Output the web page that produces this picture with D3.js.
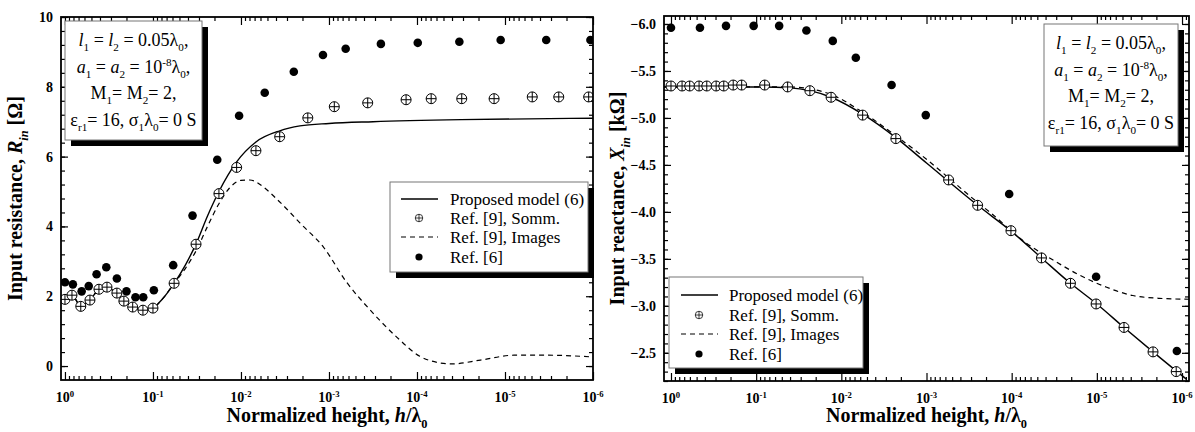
<!DOCTYPE html>
<html>
<head>
<meta charset="utf-8">
<script src="https://cdn.jsdelivr.net/npm/d3@7"></script>
<style>
body { margin: 0; background: #fff; }
svg { display: block; }
</style>
</head>
<body>
<svg id="svg"></svg>
<script>
// ---- data: left panel, input resistance [ohm] vs h/lambda0
var resSommH = [1.0, 0.832, 0.661, 0.52, 0.411, 0.333, 0.257, 0.214, 0.17, 0.13, 0.1, 0.0575, 0.0324, 0.0178, 0.0112, 0.00676, 0.00363, 0.00174, 8.7e-4, 3.63e-4, 1.33e-4, 6.9e-5, 3.1e-5, 1.33e-5, 4.9e-6, 2.45e-6, 1.12e-6];
var resSommV = [1.91, 2.03, 1.71, 1.89, 2.2, 2.26, 2.09, 1.86, 1.69, 1.6, 1.66, 2.37, 3.49, 4.94, 5.69, 6.17, 6.57, 7.11, 7.43, 7.54, 7.63, 7.66, 7.66, 7.66, 7.71, 7.71, 7.71];
var resRef6H = [1.0, 0.813, 0.646, 0.537, 0.437, 0.339, 0.257, 0.2, 0.158, 0.129, 0.0977, 0.0589, 0.0355, 0.0186, 0.0105, 0.00537, 0.00251, 0.00117, 6.46e-4, 2.57e-4, 9.8e-5, 3.3e-5, 1.12e-5, 3.4e-6, 1.07e-6];
var resRef6V = [2.4, 2.34, 2.14, 2.29, 2.63, 2.83, 2.51, 2.14, 1.97, 1.97, 2.17, 2.89, 4.31, 5.91, 7.17, 7.83, 8.43, 8.91, 9.09, 9.23, 9.26, 9.29, 9.34, 9.34, 9.34];
var resModelH = [1.109, 1.0, 0.832, 0.661, 0.525, 0.417, 0.339, 0.263, 0.214, 0.17, 0.132, 0.102, 0.0794, 0.0575, 0.0427, 0.0324, 0.024, 0.0178, 0.0112, 0.00676, 0.00363, 0.00214, 0.001, 3.16e-4, 3.16e-5, 1e-6];
var resModelV = [1.95, 1.92, 2.03, 1.72, 1.88, 2.18, 2.25, 2.1, 1.87, 1.7, 1.6, 1.65, 1.9, 2.37, 2.9, 3.5, 4.3, 5.0, 5.85, 6.42, 6.74, 6.88, 6.95, 7.0, 7.06, 7.1];
var resImagesH = [1.109, 1.0, 0.832, 0.661, 0.525, 0.417, 0.339, 0.263, 0.214, 0.17, 0.132, 0.102, 0.0794, 0.0575, 0.0427, 0.0324, 0.024, 0.0178, 0.0135, 0.01, 0.00794, 0.00537, 0.00398, 0.00302, 0.00214, 0.00115, 6.3e-4, 3.39e-4, 1.7e-4, 9.3e-5, 5.5e-5, 4e-5, 1.9e-5, 7.9e-6, 3.3e-6, 1e-6];
var resImagesV = [1.95, 1.92, 2.03, 1.72, 1.88, 2.18, 2.25, 2.1, 1.87, 1.7, 1.6, 1.65, 1.9, 2.37, 2.8, 3.3, 4.0, 4.65, 5.1, 5.32, 5.33, 5.1, 4.8, 4.5, 4.1, 3.4, 2.4, 1.6, 0.83, 0.28, 0.09, 0.06, 0.17, 0.31, 0.31, 0.26];

// ---- data: right panel, input reactance [kohm] vs h/lambda0
var reaSommH = [1.0, 0.741, 0.603, 0.468, 0.38, 0.295, 0.24, 0.186, 0.148, 0.0794, 0.0427, 0.0234, 0.0132, 0.00562, 0.00229, 5.5e-4, 2.51e-4, 1.02e-4, 4.47e-5, 2.04e-5, 1.02e-5, 4.8e-6, 2.19e-6, 1.17e-6];
var reaSommV = [-5.34, -5.34, -5.34, -5.34, -5.34, -5.34, -5.34, -5.35, -5.35, -5.35, -5.33, -5.29, -5.22, -5.03, -4.78, -4.34, -4.07, -3.80, -3.51, -3.24, -3.02, -2.77, -2.51, -2.30];
var reaRef6H = [1.0, 0.457, 0.226, 0.107, 0.0537, 0.0257, 0.0126, 0.00676, 0.00257, 0.00102, 1.07e-4, 1.02e-5, 1.15e-6];
var reaRef6V = [-5.96, -5.96, -5.98, -5.98, -5.98, -5.93, -5.82, -5.64, -5.35, -5.03, -4.19, -3.31, -2.52];
var reaModelH = [1.208, 0.1, 0.0398, 0.0234, 0.0132, 0.00562, 0.00229, 0.001, 2.51e-4, 1e-4, 4.47e-5, 2.04e-5, 1e-5, 4.8e-6, 2.19e-6, 8.9e-7];
var reaModelV = [-5.33, -5.33, -5.32, -5.29, -5.22, -5.04, -4.79, -4.52, -4.07, -3.79, -3.51, -3.24, -3.02, -2.77, -2.51, -2.22];
var reaImagesH = [1.208, 0.1, 0.0398, 0.0234, 0.0132, 0.00562, 0.00229, 0.001, 5e-4, 2.51e-4, 1.82e-4, 6.8e-5, 3.3e-5, 1.62e-5, 7.8e-6, 3.8e-6, 1.86e-6, 8.3e-7];
var reaImagesV = [-5.33, -5.33, -5.33, -5.31, -5.25, -5.06, -4.81, -4.56, -4.33, -4.1, -4.0, -3.67, -3.49, -3.33, -3.2, -3.11, -3.08, -3.07];

// ---- ticks and labels
var decadeTicks = [1, 1e-1, 1e-2, 1e-3, 1e-4, 1e-5, 1e-6];
var decadeExps = ["0", "-1", "-2", "-3", "-4", "-5", "-6"];
var resTicks = [0, 2, 4, 6, 8, 10];
var reaTicks = [-6.0, -5.5, -5.0, -4.5, -4.0, -3.5, -3.0, -2.5];
var legendNames = ["Proposed model (6)", "Ref. [9], Somm.", "Ref. [9], Images", "Ref. [6]"];

var width = 1195;
var height = 432;
var serif = "'Liberation Serif','Times New Roman',serif";

var svg = d3.select("#svg")
	.attr("width", width)
	.attr("height", height)
	.style("font-family", serif);

function zip(h, v) {
	return h.map(function(d, i) { return [d, v[i]]; });
}

// write text made of pieces: [text, style] style: i, sub, sup, isub
function rich(sel, parts, size) {
	var shift = 0;
	parts.forEach(function(p) {
		var st = p[1] || "";
		var target = 0;
		if (st.indexOf("sub") >= 0) target = size * 0.28;
		if (st.indexOf("sup") >= 0) target = -size * 0.38;
		var ts = sel.append("tspan").text(p[0]);
		if (target != shift) ts.attr("dy", target - shift);
		shift = target;
		if (target != 0) ts.attr("font-size", size * 0.62);
		if (st.indexOf("i") >= 0) ts.attr("font-style", "italic");
	});
}

var annotationLines = [
	[["l", "i"], ["1", "sub"], [" = "], ["l", "i"], ["2", "sub"], [" = 0.05λ"], ["0", "sub"], [","]],
	[["a", "i"], ["1", "sub"], [" = "], ["a", "i"], ["2", "sub"], [" = 10"], ["-8", "sup"], ["λ"], ["0", "sub"], [","]],
	[["M"], ["1", "sub"], ["= M"], ["2", "sub"], ["= 2,"]],
	[["ε"], ["r1", "sub"], ["= 16, σ"], ["1", "sub"], ["λ"], ["0", "sub"], ["= 0 S"]]
];

// vDomain is [value at bottom, value at top]
var panels = [
	{
		id: "res", left: 61, right: 593, top: 17, bottom: 380,
		hDomain: [1.109, 1e-6], vDomain: [-0.4, 10],
		majors: resTicks, minors: d3.range(0, 26).map(function(i) { return i * 0.4; }),
		fmt: function(d) { return d; },
		model: zip(resModelH, resModelV), images: zip(resImagesH, resImagesV),
		somm: zip(resSommH, resSommV), ref6: zip(resRef6H, resRef6V),
		title: [["Input resistance, "], ["R", "i"], ["in", "isub"], [" [Ω]"]], titleX: 22,
		legend: { x: 390, y: 182, w: 198, h: 90, sx: 401, tx: 450, rows: [199, 218, 237, 257] },
		note: { x: 65, y: 21, w: 137, h: 119 }
	},
	{
		id: "rea", left: 664, right: 1189, top: 16, bottom: 381,
		hDomain: [1.208, 8.28e-7], vDomain: [-2.2, -6.085],
		majors: reaTicks, minors: d3.range(-60, -21).map(function(i) { return i / 10; }),
		fmt: d3.format(".1f"),
		model: zip(reaModelH, reaModelV), images: zip(reaImagesH, reaImagesV),
		somm: zip(reaSommH, reaSommV), ref6: zip(reaRef6H, reaRef6V),
		title: [["Input reactance, "], ["X", "i"], ["in", "isub"], [" [kΩ]"]], titleX: 624,
		legend: { x: 669, y: 277, w: 194, h: 91, sx: 681, tx: 729, rows: [295, 315, 334, 354] },
		note: { x: 1044, y: 24, w: 134, h: 122 }
	}
];

function drawSomm(g, x, y) {
	var m = g.append("g").attr("transform", "translate(" + x + "," + y + ")");
	m.append("circle").attr("r", 5).attr("fill", "#fff").attr("stroke", "#000").attr("stroke-width", 1);
	m.append("path").attr("d", "M-5,0H5M0,-5V5").attr("stroke", "#000").attr("stroke-width", 1);
}

function drawPanel(p) {
	var x = d3.scaleLog().domain(p.hDomain).range([p.left, p.right]);
	var y = d3.scaleLinear().domain(p.vDomain).range([p.bottom, p.top]);
	var g = svg.append("g");
	var pw = p.right - p.left, ph = p.bottom - p.top;

	// minor log ticks 2..9
	var minorX = [];
	for (var e = 0; e >= -6; e--) {
		for (var k = 2; k <= 9; k++) {
			var v = k * Math.pow(10, e - 1);
			if (v < p.hDomain[0] && v > p.hDomain[1]) minorX.push(v);
		}
	}

	var axes = [
		[d3.axisBottom(x).tickValues(minorX).tickSize(-4), "translate(0," + p.bottom + ")"],
		[d3.axisBottom(x).tickValues(decadeTicks).tickSize(-8), "translate(0," + p.bottom + ")"],
		[d3.axisTop(x).tickValues(minorX).tickSize(-4), "translate(0," + p.top + ")"],
		[d3.axisTop(x).tickValues(decadeTicks).tickSize(-8), "translate(0," + p.top + ")"],
		[d3.axisLeft(y).tickValues(p.minors).tickSize(-4), "translate(" + p.left + ",0)"],
		[d3.axisLeft(y).tickValues(p.majors).tickSize(-7), "translate(" + p.left + ",0)"],
		[d3.axisRight(y).tickValues(p.minors).tickSize(-4), "translate(" + p.right + ",0)"],
		[d3.axisRight(y).tickValues(p.majors).tickSize(-7), "translate(" + p.right + ",0)"]
	];
	axes.forEach(function(a) {
		var ax = g.append("g").attr("transform", a[1]).call(a[0].tickFormat(""));
		ax.select(".domain").remove();
		ax.selectAll("line").attr("stroke", "#000").attr("stroke-width", 1.2);
	});

	// data lines
	var clipId = "clip-" + p.id;
	svg.append("clipPath").attr("id", clipId).append("rect")
		.attr("x", p.left).attr("y", p.top).attr("width", pw).attr("height", ph);
	var line = d3.line()
		.x(function(d) { return x(d[0]); })
		.y(function(d) { return y(d[1]); })
		.curve(d3.curveMonotoneX);
	var plot = g.append("g").attr("clip-path", "url(#" + clipId + ")");
	plot.append("path").attr("d", line(p.images)).attr("fill", "none")
		.attr("stroke", "#000").attr("stroke-width", 1.2).attr("stroke-dasharray", "5,4");
	plot.append("path").attr("d", line(p.model)).attr("fill", "none")
		.attr("stroke", "#000").attr("stroke-width", 1.4);
	p.ref6.forEach(function(d) {
		plot.append("circle").attr("cx", x(d[0])).attr("cy", y(d[1])).attr("r", 4.3).attr("fill", "#000");
	});
	p.somm.forEach(function(d) { drawSomm(plot, x(d[0]), y(d[1])); });

	// frame
	g.append("rect").attr("x", p.left).attr("y", p.top).attr("width", pw).attr("height", ph)
		.attr("fill", "none").attr("stroke", "#000").attr("stroke-width", 1.8);

	// tick labels
	decadeTicks.forEach(function(t, i) {
		var tx = g.append("text").attr("x", x(t)).attr("y", p.bottom + 22)
			.attr("text-anchor", "middle").attr("font-size", 14).attr("font-weight", "bold");
		rich(tx, [["10"], [decadeExps[i], "sup"]], 14);
	});
	p.majors.forEach(function(t) {
		g.append("text").attr("x", p.left - 8).attr("y", y(t) + 5)
			.attr("text-anchor", "end").attr("font-size", 14).attr("font-weight", "bold")
			.text(p.fmt(t));
	});

	// axis titles
	var xt = g.append("text").attr("x", (p.left + p.right) / 2).attr("y", 422)
		.attr("text-anchor", "middle").attr("font-size", 20).attr("font-weight", "bold");
	rich(xt, [["Normalized height, "], ["h", "i"], ["/λ"], ["0", "sub"]], 20);
	var yt = g.append("text")
		.attr("transform", "translate(" + p.titleX + "," + ((p.top + p.bottom) / 2) + ") rotate(-90)")
		.attr("text-anchor", "middle").attr("font-size", 20).attr("font-weight", "bold");
	rich(yt, p.title, 20);

	// parameter box
	var n = p.note;
	g.append("rect").attr("x", n.x + 6).attr("y", n.y + 6).attr("width", n.w).attr("height", n.h).attr("fill", "#000");
	g.append("rect").attr("x", n.x).attr("y", n.y).attr("width", n.w).attr("height", n.h)
		.attr("fill", "#fff").attr("stroke", "#777").attr("stroke-width", 1);
	var noteBase = [25, 52, 78, 105];
	annotationLines.forEach(function(parts, i) {
		var t = g.append("text").attr("x", n.x + n.w / 2).attr("y", n.y + noteBase[i])
			.attr("text-anchor", "middle").attr("font-size", 18);
		rich(t, parts, 18);
	});

	// legend
	var L = p.legend;
	g.append("rect").attr("x", L.x + 6).attr("y", L.y + 6).attr("width", L.w).attr("height", L.h).attr("fill", "#000");
	g.append("rect").attr("x", L.x).attr("y", L.y).attr("width", L.w).attr("height", L.h)
		.attr("fill", "#fff").attr("stroke", "#777").attr("stroke-width", 1);
	var cx = L.sx + 18;
	g.append("line").attr("x1", L.sx).attr("x2", L.sx + 37).attr("y1", L.rows[0]).attr("y2", L.rows[0])
		.attr("stroke", "#000").attr("stroke-width", 1.4);
	var sm = g.append("g").attr("transform", "translate(" + cx + "," + L.rows[1] + ") scale(0.75)");
	drawSomm(sm, 0, 0);
	g.append("line").attr("x1", L.sx).attr("x2", L.sx + 37).attr("y1", L.rows[2]).attr("y2", L.rows[2])
		.attr("stroke", "#000").attr("stroke-width", 1.2).attr("stroke-dasharray", "5,4");
	g.append("circle").attr("cx", cx).attr("cy", L.rows[3]).attr("r", 3.6).attr("fill", "#000");
	legendNames.forEach(function(name, i) {
		g.append("text").attr("x", L.tx).attr("y", L.rows[i] + 6)
			.attr("font-size", 17).text(name);
	});
}

panels.forEach(drawPanel);
</script>
</body>
</html>
